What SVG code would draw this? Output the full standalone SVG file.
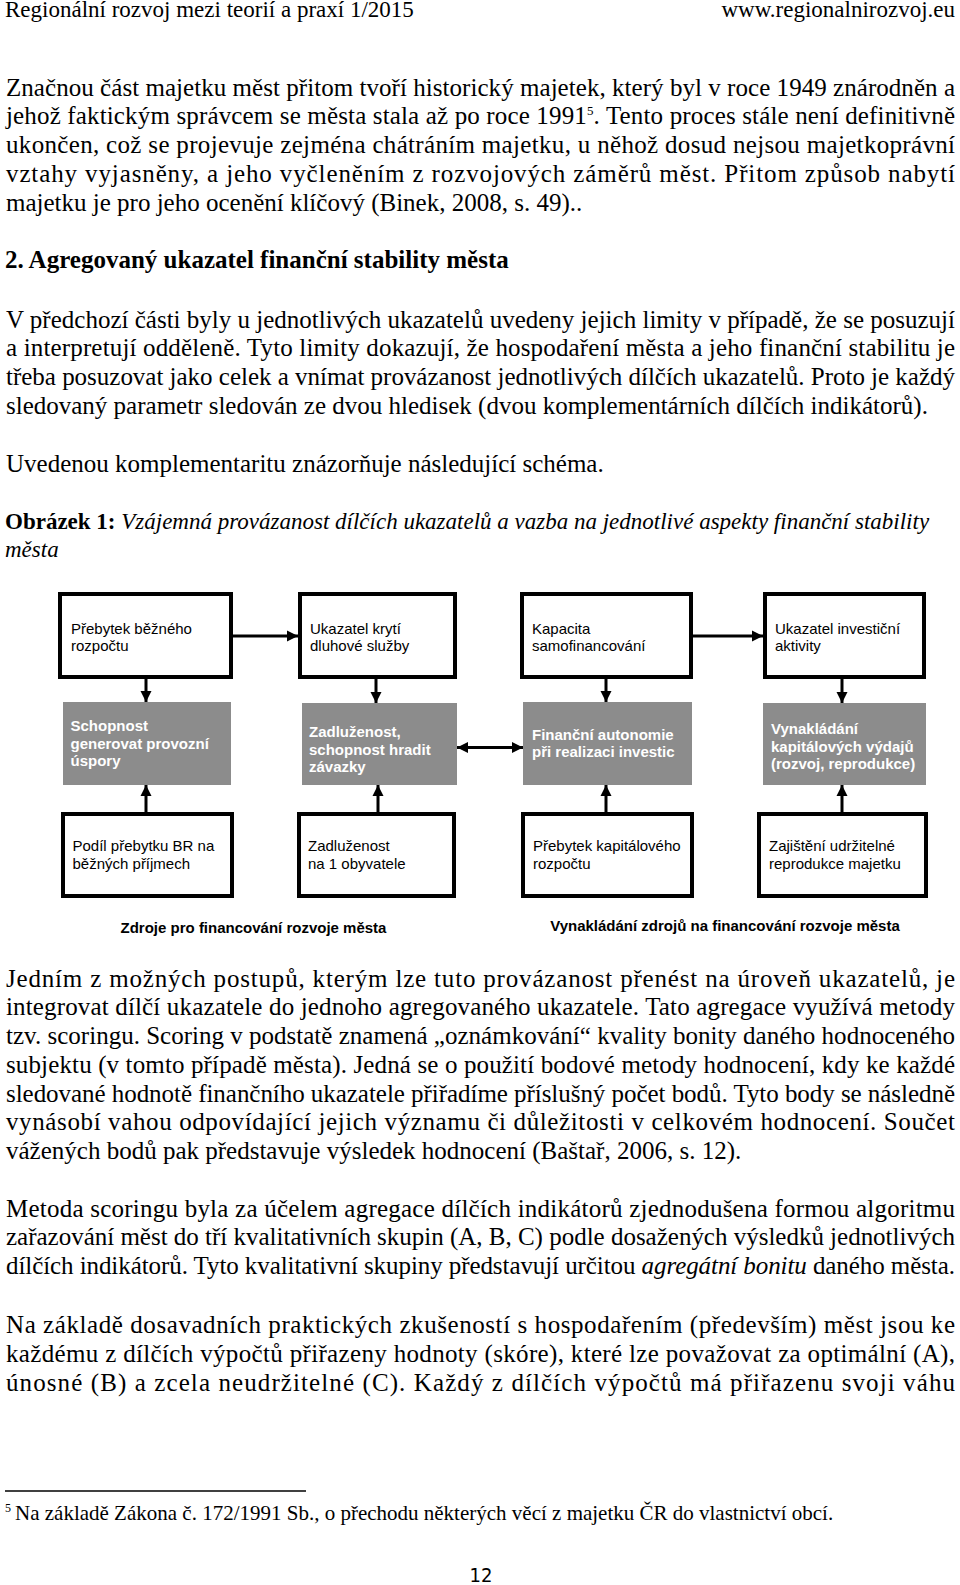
<svg xmlns="http://www.w3.org/2000/svg" width="960" height="1585" viewBox="0 0 960 1585">
<style>
.t{font-family:"Liberation Serif","Times New Roman",serif;font-size:25px;fill:#000}
.hd{font-size:23px}
.cap{font-size:23px}
.b{font-weight:bold}
.i{font-style:italic}
.fn{font-size:21px}
.d{font-family:"Liberation Sans",Arial,sans-serif;font-size:15px;fill:#000}
.w{font-weight:bold;fill:#fff}
.box{fill:#fff;stroke:#000;stroke-width:4}
.gbox{fill:#8c8c8c}
.conn line{stroke:#000;stroke-width:3;fill:none}
.pg{font-family:"Liberation Sans Narrow","DejaVu Sans Condensed","Liberation Sans",sans-serif;font-size:20px;fill:#000}
</style>
<defs>
<marker id="ah" markerUnits="userSpaceOnUse" markerWidth="12" markerHeight="12" refX="11" refY="6" orient="auto-start-reverse" viewBox="0 0 12 12">
<path d="M0,0.5 L11,6 L0,11.5 z" fill="#000"/>
</marker>
</defs>
<rect width="960" height="1585" fill="#fff"/>

<!-- header -->
<text class="t hd" x="5" y="17">Regionální rozvoj mezi teorií a praxí 1/2015</text>
<text class="t hd" x="955" y="17" text-anchor="end">www.regionalnirozvoj.eu</text>

<!-- paragraph 1 -->
<text class="t" x="6" y="95.7" textLength="949" lengthAdjust="spacing">Značnou část majetku měst přitom tvoří historický majetek, který byl v roce 1949 znárodněn a</text>
<text class="t" x="6" y="124.4" textLength="949" lengthAdjust="spacing">jehož faktickým správcem se města stala až po roce 1991<tspan font-size="13" dy="-9">5</tspan><tspan dy="9">. Tento proces stále není definitivně</tspan></text>
<text class="t" x="6" y="153.1" textLength="949" lengthAdjust="spacing">ukončen, což se projevuje zejména chátráním majetku, u něhož dosud nejsou majetkoprávní</text>
<text class="t" x="6" y="181.8" textLength="949" lengthAdjust="spacing">vztahy vyjasněny, a jeho vyčleněním z rozvojových záměrů měst. Přitom způsob nabytí</text>
<text class="t" x="6" y="210.5">majetku je pro jeho ocenění klíčový (Binek, 2008, s. 49)..</text>

<!-- heading -->
<text class="t b" x="5" y="268" font-size="26">2. Agregovaný ukazatel finanční stability města</text>

<!-- paragraph 2 -->
<text class="t" x="6" y="327.5" textLength="949" lengthAdjust="spacing">V předchozí části byly u jednotlivých ukazatelů uvedeny jejich limity v případě, že se posuzují</text>
<text class="t" x="6" y="356.2" textLength="949" lengthAdjust="spacing">a interpretují odděleně. Tyto limity dokazují, že hospodaření města a jeho finanční stabilitu je</text>
<text class="t" x="6" y="384.9" textLength="949" lengthAdjust="spacing">třeba posuzovat jako celek a vnímat provázanost jednotlivých dílčích ukazatelů. Proto je každý</text>
<text class="t" x="6" y="413.6">sledovaný parametr sledován ze dvou hledisek (dvou komplementárních dílčích indikátorů).</text>

<text class="t" x="6" y="472">Uvedenou komplementaritu znázorňuje následující schéma.</text>

<!-- figure caption -->
<text class="t cap" x="5" y="529"><tspan class="b">Obrázek 1:</tspan><tspan class="i"> Vzájemná provázanost dílčích ukazatelů a vazba na jednotlivé aspekty finanční stability</tspan></text>
<text class="t cap i" x="5" y="557">města</text>

<!-- diagram connectors -->
<g id="connectors" class="conn">
<line x1="233" y1="636" x2="298" y2="636" marker-end="url(#ah)"/>
<line x1="693" y1="636" x2="763" y2="636" marker-end="url(#ah)"/>
<line x1="146" y1="679" x2="146" y2="702" marker-end="url(#ah)"/>
<line x1="376" y1="679" x2="376" y2="703" marker-end="url(#ah)"/>
<line x1="606" y1="679" x2="606" y2="702" marker-end="url(#ah)"/>
<line x1="842" y1="679" x2="842" y2="703" marker-end="url(#ah)"/>
<line x1="146" y1="812" x2="146" y2="785" marker-end="url(#ah)"/>
<line x1="378" y1="812" x2="378" y2="785" marker-end="url(#ah)"/>
<line x1="606" y1="812" x2="606" y2="785" marker-end="url(#ah)"/>
<line x1="842" y1="812" x2="842" y2="785" marker-end="url(#ah)"/>
<line x1="457" y1="747.5" x2="523" y2="747.5" marker-start="url(#ah)" marker-end="url(#ah)"/>
</g>

<!-- top row -->
<g id="n-prebytek-bezneho">
<rect class="box" x="60" y="594" width="171" height="83"/>
<text class="d" x="71" y="633.5">Přebytek běžného</text>
<text class="d" x="71" y="651">rozpočtu</text>
</g>
<g id="n-kryti-dluhove">
<rect class="box" x="300" y="594" width="155" height="83"/>
<text class="d" x="310" y="633.5">Ukazatel krytí</text>
<text class="d" x="310" y="651">dluhové služby</text>
</g>
<g id="n-kapacita">
<rect class="box" x="522" y="594" width="169" height="83"/>
<text class="d" x="532" y="633.5">Kapacita</text>
<text class="d" x="532" y="651">samofinancování</text>
</g>
<g id="n-investicni">
<rect class="box" x="765" y="594" width="159" height="83"/>
<text class="d" x="775" y="633.5">Ukazatel investiční</text>
<text class="d" x="775" y="651">aktivity</text>
</g>

<!-- middle row -->
<g id="n-schopnost">
<rect class="gbox" x="63" y="702" width="168" height="83"/>
<text class="d w" x="70.5" y="731">Schopnost</text>
<text class="d w" x="70.5" y="748.5">generovat provozní</text>
<text class="d w" x="70.5" y="766">úspory</text>
</g>
<g id="n-zadluzenost-hradit">
<rect class="gbox" x="302" y="703" width="155" height="82"/>
<text class="d w" x="309" y="737">Zadluženost,</text>
<text class="d w" x="309" y="754.5">schopnost hradit</text>
<text class="d w" x="309" y="772">závazky</text>
</g>
<g id="n-autonomie">
<rect class="gbox" x="523" y="702" width="169" height="83"/>
<text class="d w" x="532" y="739.5">Finanční autonomie</text>
<text class="d w" x="532" y="757">při realizaci investic</text>
</g>
<g id="n-vynakladani">
<rect class="gbox" x="763" y="703" width="163" height="82"/>
<text class="d w" x="771" y="733.5">Vynakládání</text>
<text class="d w" x="771" y="751.5">kapitálových výdajů</text>
<text class="d w" x="771" y="769">(rozvoj, reprodukce)</text>
</g>

<!-- bottom row -->
<g id="n-podil">
<rect class="box" x="63" y="814" width="169" height="82"/>
<text class="d" x="72.5" y="851">Podíl přebytku BR na</text>
<text class="d" x="72.5" y="869">běžných příjmech</text>
</g>
<g id="n-zadluzenost-obyv">
<rect class="box" x="299" y="814" width="155" height="82"/>
<text class="d" x="308" y="851">Zadluženost</text>
<text class="d" x="308" y="869">na 1 obyvatele</text>
</g>
<g id="n-kapitalovy">
<rect class="box" x="523" y="814" width="169" height="82"/>
<text class="d" x="533" y="851">Přebytek kapitálového</text>
<text class="d" x="533" y="869">rozpočtu</text>
</g>
<g id="n-reprodukce">
<rect class="box" x="759" y="814" width="167" height="82"/>
<text class="d" x="769" y="851">Zajištění udržitelné</text>
<text class="d" x="769" y="869">reprodukce majetku</text>
</g>

<g id="captions">
<text class="d b" x="253.5" y="933" text-anchor="middle">Zdroje pro financování rozvoje města</text>
<text class="d b" x="725" y="931" text-anchor="middle">Vynakládání zdrojů na financování rozvoje města</text>
</g>

<!-- paragraph 4 -->
<text class="t" x="6" y="986.7" textLength="949" lengthAdjust="spacing">Jedním z možných postupů, kterým lze tuto provázanost přenést na úroveň ukazatelů, je</text>
<text class="t" x="6" y="1015.4" textLength="949" lengthAdjust="spacing">integrovat dílčí ukazatele do jednoho agregovaného ukazatele. Tato agregace využívá metody</text>
<text class="t" x="6" y="1044.1" textLength="949" lengthAdjust="spacing">tzv. scoringu. Scoring v podstatě znamená „oznámkování“ kvality bonity daného hodnoceného</text>
<text class="t" x="6" y="1072.8" textLength="949" lengthAdjust="spacing">subjektu (v tomto případě města). Jedná se o použití bodové metody hodnocení, kdy ke každé</text>
<text class="t" x="6" y="1101.5" textLength="949" lengthAdjust="spacing">sledované hodnotě finančního ukazatele přiřadíme příslušný počet bodů. Tyto body se následně</text>
<text class="t" x="6" y="1130.2" textLength="949" lengthAdjust="spacing">vynásobí vahou odpovídající jejich významu či důležitosti v celkovém hodnocení. Součet</text>
<text class="t" x="6" y="1158.9">vážených bodů pak představuje výsledek hodnocení (Baštař, 2006, s. 12).</text>

<!-- paragraph 5 -->
<text class="t" x="6" y="1216.5" textLength="949" lengthAdjust="spacing">Metoda scoringu byla za účelem agregace dílčích indikátorů zjednodušena formou algoritmu</text>
<text class="t" x="6" y="1245.2" textLength="949" lengthAdjust="spacing">zařazování měst do tří kvalitativních skupin (A, B, C) podle dosažených výsledků jednotlivých</text>
<text class="t" x="6" y="1273.9" textLength="949" lengthAdjust="spacing">dílčích indikátorů. Tyto kvalitativní skupiny představují určitou <tspan class="i">agregátní bonitu</tspan> daného města.</text>

<!-- paragraph 6 -->
<text class="t" x="6" y="1333.3" textLength="949" lengthAdjust="spacing">Na základě dosavadních praktických zkušeností s hospodařením (především) měst jsou ke</text>
<text class="t" x="6" y="1362" textLength="949" lengthAdjust="spacing">každému z dílčích výpočtů přiřazeny hodnoty (skóre), které lze považovat za optimální (A),</text>
<text class="t" x="6" y="1390.7" textLength="949" lengthAdjust="spacing">únosné (B) a zcela neudržitelné (C). Každý z dílčích výpočtů má přiřazenu svoji váhu</text>

<!-- footnote -->
<line x1="5" y1="1491" x2="306" y2="1491" stroke="#000" stroke-width="1.5"/>
<text class="t fn" x="5" y="1520"><tspan font-size="12" dy="-8">5</tspan><tspan dx="4" dy="8">Na základě Zákona č. 172/1991 Sb., o přechodu některých věcí z majetku ČR do vlastnictví obcí.</tspan></text>

<text class="pg" x="481" y="1582" text-anchor="middle">12</text>
</svg>
